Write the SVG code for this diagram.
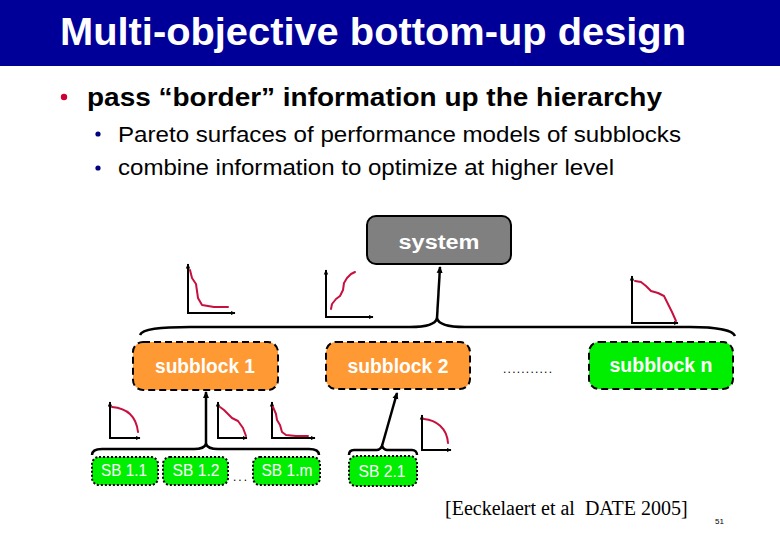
<svg xmlns="http://www.w3.org/2000/svg" width="780" height="540" viewBox="0 0 780 540">
<style>
.sans{font-family:"Liberation Sans",Arial,sans-serif}
.title{font-size:38px;font-weight:bold;fill:#fff}
.b1{font-size:26px;font-weight:bold;fill:#000}
.b2{font-size:22px;fill:#000}
.lbl{font-size:20px;font-weight:bold;fill:#fff;text-anchor:middle}
.sb{font-size:16px;fill:#fff;text-anchor:middle}
.sub{stroke:#000;stroke-width:2;stroke-dasharray:7 4}
.orange{fill:#FF9933}
.green{fill:#00EE00}
.sbbox{fill:#00EE00;stroke:#000;stroke-width:2;stroke-dasharray:2 2}
.conn{fill:none;stroke:#000;stroke-width:2.5}
.axis{fill:none;stroke:#000;stroke-width:2}
.curve{fill:none;stroke:#C8103E;stroke-width:2;stroke-linecap:round;stroke-linejoin:round}
</style>
<defs>
<marker id="ah" markerWidth="8" markerHeight="8" refX="6" refY="4" orient="auto" markerUnits="userSpaceOnUse">
<path d="M0,1 L7,4 L0,7 z" fill="#000"/>
</marker>
<marker id="sa" markerWidth="6" markerHeight="6" refX="4.5" refY="3" orient="auto-start-reverse" markerUnits="userSpaceOnUse">
<path d="M0,0.8 L5,3 L0,5.2 z" fill="#000"/>
</marker>
</defs>
<rect x="0" y="0" width="780" height="540" fill="#fff"/>
<rect x="0" y="0" width="780" height="66" fill="#000099"/>
<text class="sans title" x="60" y="45" textLength="626" lengthAdjust="spacingAndGlyphs">Multi-objective bottom-up design</text>
<circle cx="64" cy="97" r="3.2" fill="#CC0033"/>
<text class="sans b1" x="87" y="106" textLength="575" lengthAdjust="spacingAndGlyphs">pass “border” information up the hierarchy</text>
<circle cx="98" cy="134" r="2.6" fill="#000080"/>
<text class="sans b2" x="118" y="142" textLength="563" lengthAdjust="spacingAndGlyphs">Pareto surfaces of performance models of subblocks</text>
<circle cx="98" cy="168" r="2.6" fill="#000080"/>
<text class="sans b2" x="118" y="175" textLength="496" lengthAdjust="spacingAndGlyphs">combine information to optimize at higher level</text>

<g id="charts">
<path class="axis" d="M188,264 L188,313 L235,313" marker-start="url(#sa)" marker-end="url(#sa)"/>
<path class="curve" d="M190,270 L192,278 L196,284 L198,298 L202,305 L214,307 L228,307"/>
<path class="axis" d="M326,270 L326,317 L373,317" marker-start="url(#sa)" marker-end="url(#sa)"/>
<path class="curve" d="M331,309 L332,304 L336,299 L340,296 L343,290 L344,283 L347,278 L351,274 L355,272"/>
<path class="axis" d="M632,276 L632,323 L678,323" marker-start="url(#sa)" marker-end="url(#sa)"/>
<path class="curve" d="M635,281 L641,282 L646,286 L651,291 L658,293 L664,296 L667,302 L672,312 L676,321"/>
<path class="axis" d="M110,402 L110,438 L140,438" marker-start="url(#sa)" marker-end="url(#sa)"/>
<path class="curve" d="M112,407 C124,408 136,414 138,432"/>
<path class="axis" d="M218,402 L218,438 L247,438" marker-start="url(#sa)" marker-end="url(#sa)"/>
<path class="curve" d="M220,407 L224,410 L228,414 L232,418 L238,421 L243,428 L246,436"/>
<path class="axis" d="M272,402 L272,438 L315,438" marker-start="url(#sa)" marker-end="url(#sa)"/>
<path class="curve" d="M273,407 L276,414 L277,420 L280,425 L282,432 L286,435 L296,436 L308,436"/>
<path class="axis" d="M422,415 L422,450 L451,450" marker-start="url(#sa)" marker-end="url(#sa)"/>
<path class="curve" d="M424,419 C436,420 447,428 448,443"/>
</g>

<g id="connectors">
<path class="conn" d="M140,335 C142,329 160,327 190,327 L410,327 C428,327 436,324 437,318 C438,324 446,327 465,327 L690,327 C715,327 733,330 735,336"/>
<path class="conn" d="M437,318 L440,267" marker-end="url(#ah)"/>
<path class="conn" d="M92,455 C92,451 95,449 102,449 L194,449 C202,449 205,447 206,444 C207,447 210,449 218,449 L309,449 C316,449 319,451 319,455"/>
<path class="conn" d="M206,444 L206,392" marker-end="url(#ah)"/>
<path class="conn" d="M349,455 C349,452 350,450 354,450 L377,450 C380,450 381,448 382,446 C383,448 384,450 387,450 L412,450 C415,450 417,452 417,455"/>
<path class="conn" d="M382,446 L397,393" marker-end="url(#ah)"/>
</g>

<g id="system">
<rect x="367" y="216" width="144" height="48" rx="9" fill="#808080" stroke="#000" stroke-width="2"/>
<text class="sans lbl" x="439" y="249" font-size="22" textLength="81" lengthAdjust="spacingAndGlyphs">system</text>
</g>
<g id="subblock1">
<rect class="sub orange" x="133" y="342" width="145" height="48" rx="10"/>
<text class="sans lbl" x="205" y="373" font-size="18" textLength="100" lengthAdjust="spacingAndGlyphs">subblock 1</text>
</g>
<g id="subblock2">
<rect class="sub orange" x="326" y="342" width="144" height="47" rx="10"/>
<text class="sans lbl" x="398" y="373" font-size="18" textLength="101" lengthAdjust="spacingAndGlyphs">subblock 2</text>
</g>
<g id="subblockn">
<rect class="sub green" x="589" y="342" width="144" height="47" rx="10"/>
<text class="sans lbl" x="661" y="372" font-size="18" textLength="103" lengthAdjust="spacingAndGlyphs">subblock n</text>
</g>
<text class="sans" x="503" y="373" font-size="12" fill="#000" textLength="49" lengthAdjust="spacing">...........</text>

<g id="sb11">
<rect class="sbbox" x="92" y="457" width="66" height="28" rx="7"/>
<text class="sans sb" x="124" y="476" textLength="46" lengthAdjust="spacingAndGlyphs">SB 1.1</text>
</g>
<g id="sb12">
<rect class="sbbox" x="163" y="457" width="65" height="28" rx="7"/>
<text class="sans sb" x="196" y="476" textLength="47" lengthAdjust="spacingAndGlyphs">SB 1.2</text>
</g>
<text class="sans" x="233" y="481" font-size="12" fill="#000" textLength="14" lengthAdjust="spacing">...</text>
<g id="sb1m">
<rect class="sbbox" x="253" y="457" width="67" height="28" rx="7"/>
<text class="sans sb" x="287" y="476" textLength="51" lengthAdjust="spacingAndGlyphs">SB 1.m</text>
</g>
<g id="sb21">
<rect class="sbbox" x="349" y="456" width="68" height="30" rx="7"/>
<text class="sans sb" x="382" y="477" textLength="47" lengthAdjust="spacingAndGlyphs">SB 2.1</text>
</g>

<text x="445" y="515" font-family="'Liberation Serif','Times New Roman',serif" font-size="20" fill="#000" style="white-space:pre">[Eeckelaert et al  DATE 2005]</text>
<text class="sans" x="715" y="524" font-size="8" fill="#000">51</text>
</svg>
